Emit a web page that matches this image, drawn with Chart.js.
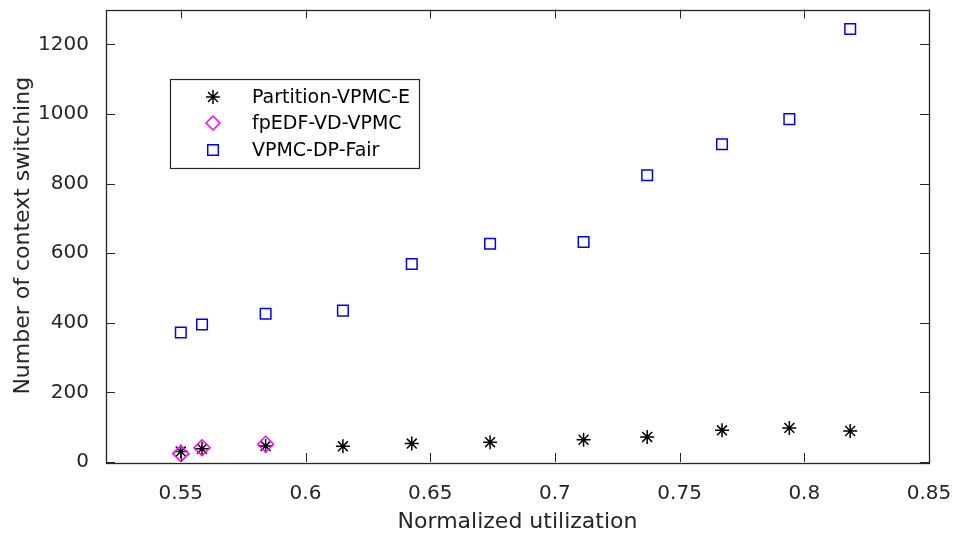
<!DOCTYPE html>
<html>
<head>
<meta charset="utf-8">
<script src="https://cdn.jsdelivr.net/npm/chart.js@4.4.1/dist/chart.umd.min.js"></script>
<style>
  html, body { margin: 0; padding: 0; background: #fff; }
  #wrap { width: 955px; height: 537px; position: relative; }
</style>
</head>
<body>
<div id="wrap"><canvas id="chart" width="955" height="537"></canvas></div>
<script>
// data
const utilization = [0.55, 0.5585, 0.584, 0.615, 0.6426, 0.674, 0.7115, 0.737, 0.767, 0.794, 0.8184];
const partitionVals = [30, 38, 46, 45, 53, 57, 64, 72, 91, 98, 89];
const fpedfVals = [24, 41, 51];
const vpmcDpVals = [372, 395, 426, 435, 569, 627, 632, 824, 913, 985, 1244];
const xTicks = [0.55, 0.6, 0.65, 0.7, 0.75, 0.8, 0.85];
const yTicks = [0, 200, 400, 600, 800, 1000, 1200];
const seriesNames = ['Partition-VPMC-E', 'fpEDF-VD-VPMC', 'VPMC-DP-Fair'];

const AXIS = '#262626';
const FONT = 'DejaVu Sans';

const toPts = (ys) => ys.map((y, i) => ({ x: utilization[i], y: y }));

const series = [
    { label: seriesNames[0], data: toPts(partitionVals), pointStyle: 'star', pointRadius: 7, borderColor: '#000000', order: 2 },
    { label: seriesNames[1], data: toPts(fpedfVals), pointStyle: 'rectRot', pointRadius: 8, borderColor: '#ff00ff', order: 1 },
    { label: seriesNames[2], data: toPts(vpmcDpVals), pointStyle: 'rect', pointRadius: 7.5, borderColor: '#0000ff', order: 3 }
];

// box + inward ticks on all four sides, matlab style
const boxTicks = {
    id: 'boxTicks',
    afterDraw(chart) {
        const { ctx, chartArea: a, scales } = chart;
        const len = 9;
        ctx.save();
        ctx.strokeStyle = AXIS;
        ctx.lineWidth = 1;
        ctx.beginPath();
        xTicks.forEach(v => {
            const px = Math.round(scales.x.getPixelForValue(v)) + 0.5;
            ctx.moveTo(px, a.bottom); ctx.lineTo(px, a.bottom - len);
            ctx.moveTo(px, a.top); ctx.lineTo(px, a.top + len);
        });
        yTicks.forEach(v => {
            const py = Math.round(scales.y.getPixelForValue(v)) + 0.5;
            ctx.moveTo(a.left, py); ctx.lineTo(a.left + len, py);
            ctx.moveTo(a.right, py); ctx.lineTo(a.right - len, py);
        });
        ctx.stroke();
        ctx.lineWidth = 1.3;
        ctx.strokeRect(Math.round(a.left) + 0.5, Math.round(a.top) + 0.5,
            Math.round(a.right - a.left), Math.round(a.bottom - a.top));
        ctx.restore();
    }
};

// legend box inside the axes
const boxLegend = {
    id: 'boxLegend',
    afterDraw(chart) {
        const ctx = chart.ctx;
        const bx = 170, by = 79, bw = 249, bh = 89;
        const rowY = [97, 123, 150];
        ctx.save();
        ctx.fillStyle = '#ffffff';
        ctx.fillRect(bx, by, bw, bh);
        ctx.strokeStyle = AXIS;
        ctx.lineWidth = 1.2;
        ctx.strokeRect(bx + 0.5, by + 0.5, bw, bh);
        series.forEach((s, i) => {
            ctx.strokeStyle = s.borderColor;
            ctx.fillStyle = 'rgba(0,0,0,0)';
            ctx.lineWidth = 1.5;
            Chart.helpers.drawPoint(ctx, { pointStyle: s.pointStyle, radius: s.pointStyle === 'rect' ? 7.5 : 7, rotation: 0, borderWidth: 1.5 }, 213, rowY[i]);
            ctx.fillStyle = '#000';
            ctx.font = '19px "' + FONT + '"';
            ctx.textAlign = 'left';
            ctx.textBaseline = 'middle';
            ctx.fillText(s.label, 252, rowY[i] + 1);
        });
        ctx.restore();
    }
};

new Chart(document.getElementById('chart').getContext('2d'), {
    type: 'scatter',
    data: {
        datasets: series.map(s => ({
            label: s.label,
            data: s.data,
            pointStyle: s.pointStyle,
            pointRadius: s.pointRadius,
            pointHoverRadius: s.pointRadius,
            borderColor: s.borderColor,
            backgroundColor: 'rgba(0,0,0,0)',
            pointBorderWidth: 1.5,
            showLine: false,
            order: s.order
        }))
    },
    options: {
        responsive: false,
        animation: false,
        layout: { padding: { top: 7, right: 26, left: 0, bottom: 0 } },
        plugins: { legend: { display: false }, tooltip: { enabled: false } },
        scales: {
            x: {
                type: 'linear',
                min: 0.52,
                max: 0.85,
                afterBuildTicks: s => { s.ticks = xTicks.map(v => ({ value: v })); },
                afterFit: s => { s.height = 75; s.paddingLeft = 0; s.paddingRight = 0; },
                grid: { display: false },
                border: { display: false },
                ticks: {
                    color: AXIS, padding: 12,
                    font: { family: FONT, size: 20 },
                    callback: v => String(v)
                },
                title: {
                    display: true, text: 'Normalized utilization', color: AXIS,
                    font: { family: FONT, size: 22 }, padding: { top: 0, bottom: 2 }
                }
            },
            y: {
                type: 'linear',
                min: 0,
                max: 1300,
                afterBuildTicks: s => { s.ticks = yTicks.map(v => ({ value: v })); },
                afterFit: s => { s.width = 106; s.paddingTop = 0; s.paddingBottom = 0; },
                grid: { display: false },
                border: { display: false },
                ticks: {
                    color: AXIS, padding: 9,
                    font: { family: FONT, size: 20 },
                    callback: v => String(v)
                },
                title: {
                    display: true, text: 'Number of context switching', color: AXIS,
                    font: { family: FONT, size: 22 }, padding: { top: 10, bottom: 0 }
                }
            }
        }
    },
    plugins: [boxTicks, boxLegend]
});
</script>
</body>
</html>
